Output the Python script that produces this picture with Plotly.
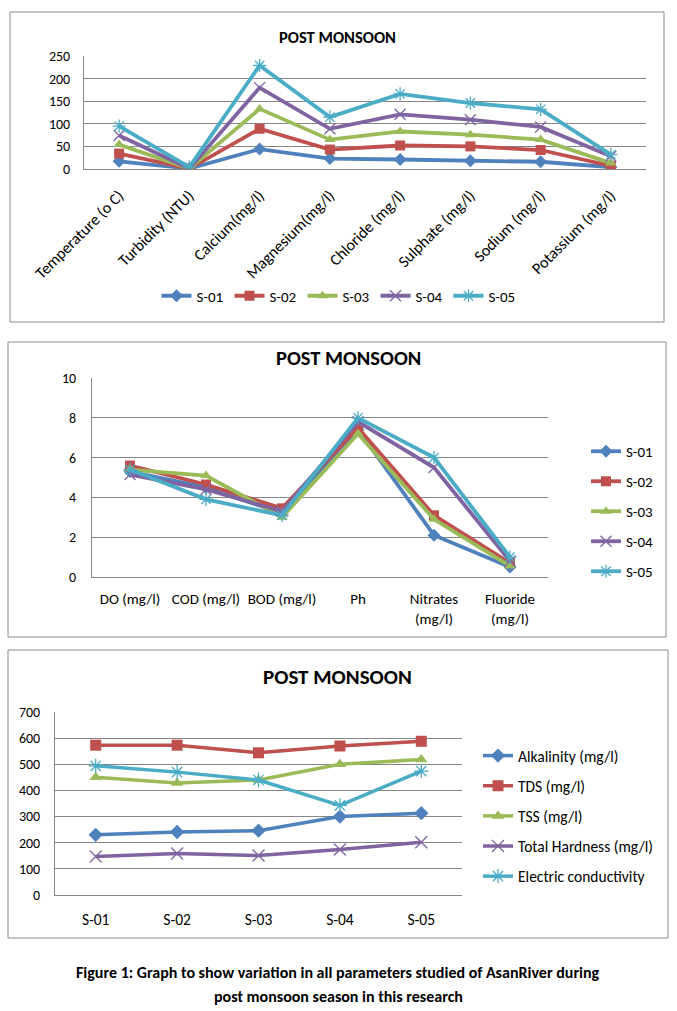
import plotly.graph_objects as go

W, H = 677, 1011

# ---------------- data ----------------
params1 = ["Temperature (o C)", "Turbidity (NTU)", "Calcium(mg/l)", "Magnesium(mg/l)",
           "Chloride (mg/l)", "Sulphate (mg/l)", "Sodium (mg/l)", "Potassium (mg/l)"]
p1_s01 = [17, 1, 44, 23, 21, 18.5, 16, 4]
p1_s02 = [34, 1, 89, 43, 52, 50, 42, 7]
p1_s03 = [54, 1, 133, 65, 83, 76, 65, 13]
p1_s04 = [74, 1, 180, 89, 121, 109, 93, 28]
p1_s05 = [95, 4, 229, 115, 166, 146, 132, 32]

params2 = ["DO (mg/l)", "COD (mg/l)", "BOD (mg/l)", "Ph", "Nitrates<br>(mg/l)", "Fluoride<br>(mg/l)"]
p2_s01 = [5.3, 4.5, 3.2, 7.4, 2.1, 0.5]
p2_s02 = [5.6, 4.65, 3.45, 7.5, 3.1, 0.7]
p2_s03 = [5.4, 5.1, 3.0, 7.2, 2.9, 0.55]
p2_s04 = [5.15, 4.4, 3.3, 7.8, 5.5, 0.8]
p2_s05 = [5.4, 3.9, 3.1, 8.0, 6.0, 1.0]

sites = ["S-01", "S-02", "S-03", "S-04", "S-05"]
alkalinity = [230, 241, 246, 300, 313]
tds = [573, 573, 544, 570, 588]
tss = [450, 428, 440, 500, 518]
total_hardness = [147, 159, 151, 174, 202]
electric_cond = [494, 470, 440, 343, 474]

series_names = ["S-01", "S-02", "S-03", "S-04", "S-05"]
series3_names = ["Alkalinity (mg/l)", "TDS (mg/l)", "TSS (mg/l)",
                 "Total Hardness (mg/l)", "Electric conductivity"]

# ---------------- styles ----------------
colors = ["#4F81BD", "#C0504D", "#9BBB59", "#8064A2", "#4BACC6"]
symbols = ["diamond", "square", "triangle-up", "x-thin-open", "asterisk-open"]
FONT = "Carlito, Lato, sans-serif"
GRID = "#868686"


def px_x(v):
    return v / W


def px_y(v):
    return 1 - v / H


fig = go.Figure()


def add_series(xs, ys_list, names, xa, ya, legend, msize, lw):
    for i, (ys, nm) in enumerate(zip(ys_list, names)):
        sym = symbols[i]
        thin = sym.endswith("open")
        fig.add_trace(go.Scatter(
            x=xs, y=ys, name=nm, mode="lines+markers",
            xaxis=xa, yaxis=ya, legend=legend, legendgroup=legend + nm,
            line=dict(color=colors[i], width=lw),
            marker=dict(symbol=sym, size=msize + (1 if thin else 0), color=colors[i],
                        line=dict(color=colors[i], width=1.3 if thin else 0)),
        ))


add_series(params1, [p1_s01, p1_s02, p1_s03, p1_s04, p1_s05], series_names, "x", "y", "legend", 10, 3.8)
add_series(params2, [p2_s01, p2_s02, p2_s03, p2_s04, p2_s05], series_names, "x2", "y2", "legend2", 10, 3.8)
add_series(sites, [alkalinity, tds, tss, total_hardness, electric_cond], series3_names, "x3", "y3", "legend3", 11, 3.5)

common_x = dict(type="category", showgrid=False, showline=True, linecolor=GRID, linewidth=1,
                ticks="", zeroline=False, automargin=False)
common_y = dict(showgrid=True, gridcolor=GRID, gridwidth=1, showline=True, linecolor=GRID,
                linewidth=1, ticks="", zeroline=False, automargin=False,
                tickfont=dict(family=FONT, size=14, color="#000"))

fig.update_layout(
    width=W, height=H, margin=dict(l=0, r=0, t=0, b=0, autoexpand=False),
    paper_bgcolor="white", plot_bgcolor="white",
    font=dict(family=FONT, color="#000"),
    xaxis=dict(common_x, domain=[px_x(84), px_x(646)], anchor="y", range=[-0.5, 7.5],
               tickangle=-45, ticklabelstandoff=10, tickfont=dict(family=FONT, size=16, color="#000")),
    yaxis=dict(common_y, domain=[px_y(169), px_y(56)], anchor="x", range=[0, 250], dtick=50,
               ticklabelstandoff=10),
    xaxis2=dict(common_x, domain=[px_x(92), px_x(548)], anchor="y2", range=[-0.5, 5.5],
                ticklabelstandoff=8, tickfont=dict(family=FONT, size=15, color="#000")),
    yaxis2=dict(common_y, domain=[px_y(577), px_y(378)], anchor="x2", range=[0, 10], dtick=2,
                ticklabelstandoff=12),
    xaxis3=dict(common_x, domain=[px_x(55), px_x(462)], anchor="y3", range=[-0.5, 4.5],
                ticklabelstandoff=10, tickfont=dict(family=FONT, size=15.5, color="#000")),
    yaxis3=dict(common_y, domain=[px_y(895), px_y(712)], anchor="x3", range=[0, 700], dtick=100,
                ticklabelstandoff=11),
    legend=dict(orientation="h", x=px_x(339), xanchor="center", y=px_y(296), yanchor="middle",
                font=dict(family=FONT, size=15), entrywidth=28, entrywidthmode="pixels",
                itemwidth=30, bgcolor="rgba(0,0,0,0)", tracegroupgap=0),
    legend2=dict(orientation="v", x=px_x(586), xanchor="left", y=px_y(435), yanchor="top",
                 font=dict(family=FONT, size=15), itemwidth=30, tracegroupgap=7.5,
                 bgcolor="rgba(0,0,0,0)"),
    legend3=dict(orientation="v", x=px_x(478), xanchor="left", y=px_y(739), yanchor="top",
                 font=dict(family=FONT, size=15.5), itemwidth=30, tracegroupgap=7,
                 bgcolor="rgba(0,0,0,0)"),
    showlegend=True,
)

# panel borders
for (x0, y0, x1, y1) in [(10, 12, 664, 322), (8, 342, 666, 637), (8, 650, 668, 938)]:
    fig.add_shape(type="rect", xref="paper", yref="paper",
                  x0=px_x(x0), x1=px_x(x1), y0=px_y(y1), y1=px_y(y0),
                  line=dict(color="#8C8C8C", width=1), fillcolor="rgba(0,0,0,0)", layer="below")

# titles
titles = [(337, 37, 16.5), (348, 358, 20.5), (337, 677, 21)]
for (cx, cy, fs) in titles:
    fig.add_annotation(text="<b>POST MONSOON</b>", xref="paper", yref="paper",
                       x=px_x(cx), y=px_y(cy), xanchor="center", yanchor="middle",
                       showarrow=False, font=dict(family=FONT, size=fs, color="#000"))

# caption
fig.add_annotation(text="<b>Figure 1: Graph to show variation in all parameters studied of AsanRiver during</b>",
                   xref="paper", yref="paper", x=px_x(338), y=px_y(972), xanchor="center",
                   yanchor="middle", showarrow=False, font=dict(family=FONT, size=16, color="#000"))
fig.add_annotation(text="<b>post monsoon season in this research</b>",
                   xref="paper", yref="paper", x=px_x(338), y=px_y(996), xanchor="center",
                   yanchor="middle", showarrow=False, font=dict(family=FONT, size=16, color="#000"))

fig.write_html("out.html", config={"displayModeBar": False},
               post_script="document.body.style.margin='0';document.body.style.overflow='hidden';")
